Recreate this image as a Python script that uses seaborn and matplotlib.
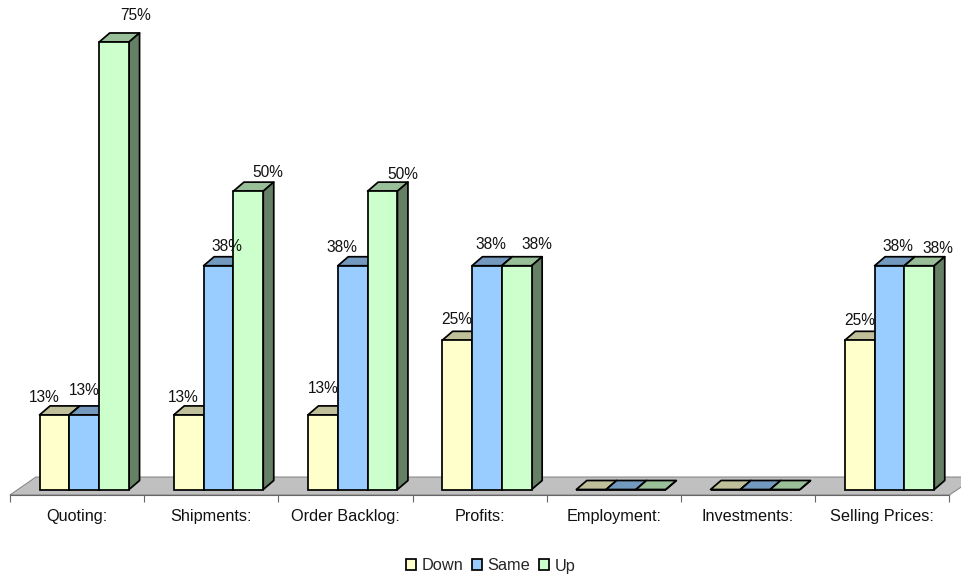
import numpy as np
import pandas as pd
import matplotlib
matplotlib.use('Agg')
import matplotlib.pyplot as plt
from matplotlib.patches import Polygon
from matplotlib.ticker import NullFormatter
import seaborn as sns

#---------------------------------------------------------
categories=['Quoting:', 'Shipments:', 'Order Backlog:', 'Profits:', 'Employment:', 'Investments:', 'Selling Prices:']
down=[12.5, 12.5, 12.5, 25, 0, 0, 25]
same=[12.5, 37.5, 37.5, 37.5, 0, 0, 37.5]
up=[75, 50, 50, 37.5, 0, 0, 37.5]
series=['Down', 'Same', 'Up']

#label offsets from the bar top, in pixels
nudge={
	'Down': [(-10,17), (-5,17), (0,26), (0,21), None, None, (0,20)],
	'Same': [(0,24), (8,19), (-11,18), (4,21), None, None, (8,19)],
	'Up': [(21,26), (19,19), (20,17), (20,21), None, None, (19,17)],
}
clrs=['#FFFFCC', '#99CCFF', '#CCFFCC']

#--------------------------------------------------------
W, H=961, 577
x0, x_step=84.3, 134.2
y0, y_scale=489.5, 5.967
px=0.72

sns.set_theme(style='white')
plt.rcParams['font.family']=['Liberation Sans', 'DejaVu Sans']

df=pd.DataFrame({'cat': categories*3,
	'val': down+same+up,
	'hue': [s for s in series for _ in categories]})

fig=plt.figure(figsize=(W/100, H/100), dpi=100)
ax=fig.add_axes([0, 0, 1, 1])
ax=sns.barplot(data=df, x='cat', y='val', hue='hue', hue_order=series, order=categories,
	palette=clrs, saturation=1, width=0.667, gap=0, edgecolor='black', linewidth=1.25, ax=ax, zorder=3)

ax.set_xlim(-x0/x_step, (W-x0)/x_step)
ax.set_ylim((y0-H)/y_scale, y0/y_scale)
ax.set_xlabel('')
ax.set_ylabel('')
ax.set_yticks([])

#depth of the bars and of the floor in data units
dx, dy=10.5/x_step, 9/y_scale
floor_y=-5.5/y_scale
tick_off=-7.3/x_step
edges=np.arange(8)-0.5+tick_off
back_l, back_r=26/x_step, 27/x_step
back_y=12.5/y_scale

#floor
ax.add_patch(Polygon([(edges[0], floor_y), (edges[-1], floor_y), (edges[-1]+back_r, back_y), (edges[0]+back_l, back_y)],
	closed=True, fc='#C0C0C0', ec='#808080', lw=0.7, zorder=1))

#3d faces, drawn left to right so the next bar hides them
bars=sorted([b for cont in ax.containers for b in cont], key=lambda p: p.get_x())
z=3
for b in bars:
	l, w, h=b.get_x(), b.get_width(), b.get_height()
	c=np.array(b.get_facecolor()[:3])
	top=Polygon([(l, h), (l+w, h), (l+w+dx, h+dy), (l+dx, h+dy)], closed=True,
		fc=c*0.75, ec='black', lw=1.25, joinstyle='round', zorder=z)
	side=Polygon([(l+w, 0), (l+w+dx, dy), (l+w+dx, h+dy), (l+w, h)], closed=True,
		fc=c*0.5, ec='black', lw=1.25, joinstyle='round', zorder=z)
	ax.add_patch(top)
	ax.add_patch(side)
	b.set_zorder(z+0.5)
	z+=1

#value labels
for cont, s in zip(ax.containers, series):
	for b, n in zip(cont, nudge[s]):
		if n is None:
			continue
		v=b.get_height()
		ax.annotate(f'{int(v+0.5)}%', (b.get_x()+b.get_width()/2, v), xytext=(n[0]*px, n[1]*px),
			textcoords='offset points', ha='center', va='center', fontsize=11.2, color='#111111', zorder=100)

#axis line, tick marks between the categories, labels under them
for k in ['top', 'left', 'right']:
	ax.spines[k].set_visible(False)
sp=ax.spines['bottom']
sp.set_position(('data', floor_y))
sp.set_bounds(edges[0], edges[-1])
sp.set_color('#666666')
sp.set_linewidth(0.8)
sp.set_zorder(2)
ax.set_xticks(np.arange(7)+tick_off, categories)
ax.set_xticks(edges, minor=True)
ax.xaxis.set_minor_formatter(NullFormatter())
ax.tick_params(axis='x', which='major', length=0, pad=10, labelsize=11.7, labelcolor='#111111')
ax.tick_params(axis='x', which='minor', bottom=True, length=5, width=0.8, color='#666666')

#legend
sns.move_legend(ax, 'center', bbox_to_anchor=(490.5/W, 1-566/H), ncol=3, frameon=False, title=None,
	fontsize=11.8, handlelength=0.62, handleheight=0.62, handletextpad=0.35, columnspacing=0.5)

#seaborn leaves empty proxy patches for the legend on the axes
keep=set(id(b) for b in bars)
for p in ax.patches:
	if isinstance(p, matplotlib.patches.Rectangle) and id(p) not in keep:
		p.set_visible(False)

plt.savefig('out.png', dpi=100)
plt.close()
